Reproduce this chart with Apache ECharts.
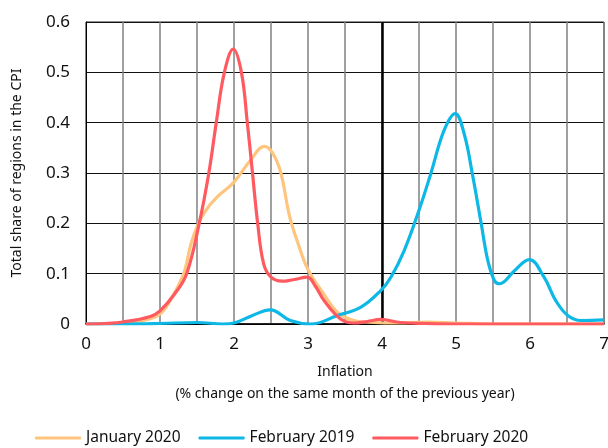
<!DOCTYPE html>
<html>
<head>
<meta charset="utf-8">
<script src="https://cdn.jsdelivr.net/npm/echarts@6/dist/echarts.min.js"></script>
<style>html,body{margin:0;padding:0;background:#fff}#c{width:608px;height:448px}</style>
</head>
<body>
<div id="c"></div>
<script>
var seriesNames = ['January 2020', 'February 2019', 'February 2020'];
var jan2020 = [[0,0],[0.5,0.002],[0.75,0.006],[1.0,0.02],[1.15,0.05],[1.32,0.1],[1.42,0.16],[1.52,0.2],[1.62,0.226],[1.77,0.252],[2.0,0.282],[2.22,0.325],[2.41,0.353],[2.52,0.34],[2.63,0.302],[2.75,0.215],[2.87,0.158],[3.0,0.108],[3.22,0.058],[3.4,0.023],[3.62,0.007],[3.9,0.003],[4.2,0.002],[4.6,0.004],[5.0,0.002],[5.5,0],[6,0],[7,0]];
var feb2019 = [[0,0],[0.5,0],[1.0,0.001],[1.5,0.003],[1.85,0],[2.0,0.002],[2.25,0.017],[2.49,0.028],[2.76,0.007],[3.04,0],[3.4,0.017],[3.71,0.033],[3.98,0.066],[4.12,0.093],[4.3,0.146],[4.5,0.226],[4.66,0.299],[4.84,0.385],[4.99,0.418],[5.11,0.378],[5.22,0.299],[5.34,0.2],[5.43,0.126],[5.52,0.086],[5.59,0.08],[5.79,0.106],[5.99,0.128],[6.19,0.093],[6.35,0.046],[6.51,0.017],[6.69,0.007],[7,0.008]];
var feb2020 = [[0,0],[0.25,0.001],[0.5,0.004],[0.87,0.015],[1.0,0.026],[1.2,0.06],[1.36,0.1],[1.53,0.2],[1.66,0.3],[1.76,0.4],[1.87,0.5],[1.99,0.546],[2.1,0.5],[2.18,0.4],[2.25,0.3],[2.32,0.2],[2.4,0.12],[2.5,0.093],[2.65,0.085],[2.8,0.088],[2.99,0.093],[3.1,0.075],[3.22,0.046],[3.44,0.01],[3.62,0.002],[3.8,0.005],[3.98,0.009],[4.25,0.003],[4.6,0.001],[5,0],[6,0],[7,0]];
var colors = ['#FEC57F', '#0DB8E6', '#FF5A5F'];
var xTicks = [0,1,2,3,4,5,6,7];
var yTicks = [0,0.1,0.2,0.3,0.4,0.5,0.6];
var fontFam = 'Noto Sans';

var chart = echarts.init(document.getElementById('c'));
var mk = function(name, data, color, extra) {
  var s = {name: name, type: 'line', data: data, smooth: 0.4, showSymbol: false, symbol: 'none',
    lineStyle: {width: 3.2, color: color}, itemStyle: {color: color}, z: 3};
  if (extra) Object.assign(s, extra);
  return s;
};
chart.setOption({
  animation: false,
  textStyle: {fontFamily: fontFam},
  grid: {left: 86, right: 4, top: 22, bottom: 124, show: true, borderColor: '#222', borderWidth: 1,
    containLabel: false, outerBoundsMode: 'none'},
  legend: {top: 430, left: 35, padding: 0, itemWidth: 46, itemHeight: 3, itemGap: 18,
    icon: 'roundRect',
    textStyle: {fontSize: 15.5, color: '#111', fontFamily: fontFam},
    data: seriesNames},
  xAxis: {type: 'value', min: 0, max: 7, interval: 0.5,
    name: 'Inflation\n(% change on the same month of the previous year)',
    nameLocation: 'middle', nameGap: 37,
    nameTextStyle: {fontSize: 14, color: '#111', lineHeight: 22},
    axisLine: {show: true, onZero: false, lineStyle: {color: '#000', width: 1.5}},
    axisTick: {show: false},
    axisLabel: {fontSize: 17, color: '#111', margin: 12,
      formatter: function(v){ return xTicks.indexOf(v) >= 0 ? String(v) : ''; }},
    splitLine: {show: true, lineStyle: {color: '#808080', width: 1.5}}},
  yAxis: {type: 'value', min: 0, max: 0.6, interval: 0.1,
    name: 'Total share of regions in the CPI', nameLocation: 'middle', nameGap: 62,
    nameTextStyle: {fontSize: 14, color: '#111'},
    axisLine: {show: true, lineStyle: {color: '#000', width: 1}},
    axisTick: {show: false},
    axisLabel: {fontSize: 17, color: '#111', margin: 16,
      formatter: function(v){ var r = Math.round(v*10)/10; return yTicks.indexOf(r) >= 0 ? String(r) : ''; }},
    splitLine: {show: true, lineStyle: {color: '#111', width: 1}}},
  series: [
    mk(seriesNames[0], jan2020, colors[0]),
    mk(seriesNames[1], feb2019, colors[1], {
      markLine: {silent: true, symbol: 'none', label: {show: false},
        lineStyle: {color: '#000', width: 2.5, type: 'solid'}, data: [{xAxis: 4}], z: 2}}),
    mk(seriesNames[2], feb2020, colors[2])
  ]
});
</script>
</body>
</html>
